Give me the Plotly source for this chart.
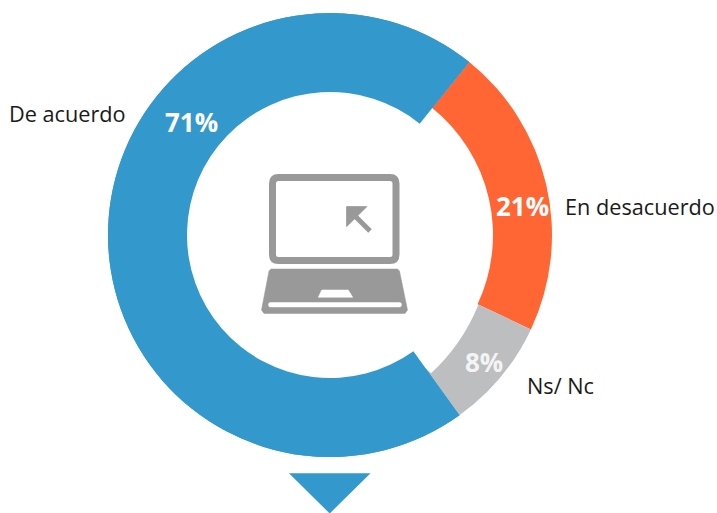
import plotly.graph_objects as go

categories = ["En desacuerdo", "Ns/ Nc", "De acuerdo"]
values = [21.2, 8.1, 70.7]
colors = ["#FF6633", "#BCBEC0", "#3399CC"]

W, H = 717, 513
def X(p): return p / W
def Y(p): return 1 - p / H
def P(x, y): return f"{X(x):.5f},{Y(y):.5f}"
def poly(pts):
    return "M" + " L".join(P(x, y) for x, y in pts) + " Z"
def rounded(x0, y0, x1, y1, r):
    return ("M" + P(x0 + r, y0) + " L" + P(x1 - r, y0) + " Q" + P(x1, y0) + " " + P(x1, y0 + r)
            + " L" + P(x1, y1 - r) + " Q" + P(x1, y1) + " " + P(x1 - r, y1)
            + " L" + P(x0 + r, y1) + " Q" + P(x0, y1) + " " + P(x0, y1 - r)
            + " L" + P(x0, y0 + r) + " Q" + P(x0, y0) + " " + P(x0 + r, y0) + " Z")

GRAY = "#999999"
BLUE = colors[2]
shapes = [
    # trims the grey band's inner edge, which runs off-centre towards the blue slice
    dict(type="path", path="M" + P(478.3, 305) + " Q" + P(462, 344.8) + " " + P(431, 373.3)
         + " L" + P(424.9, 367.5) + " L" + P(470, 300) + " Z",
         fillcolor="white", line=dict(width=0)),
    dict(type="path", path=rounded(272.5, 177.5, 396, 260.5, 6), fillcolor="rgba(0,0,0,0)",
         line=dict(color=GRAY, width=7)),
    dict(type="path", path=poly([(346.7, 206.7), (366.7, 206.7), (346.7, 226.5)]), fillcolor=GRAY,
         line=dict(color=GRAY, width=1)),
    dict(type="path", path="M" + P(353, 214) + " L" + P(370, 231), line=dict(color=GRAY, width=5)),
    dict(type="path", path=poly([(271, 269), (397.5, 269), (399.5, 271), (407.5, 310), (405, 313.5),
                                 (264, 313.5), (261.5, 310), (269, 271)]), fillcolor=GRAY,
         line=dict(color=GRAY, width=0.5)),
    dict(type="path", path=poly([(321.7, 290), (348.3, 290), (352.7, 297.3), (318.3, 297.3)]),
         fillcolor="white", line=dict(color="white", width=0.5)),
    dict(type="path", path=rounded(268.5, 302.5, 401.5, 307, 2), fillcolor="white",
         line=dict(color="white", width=0.5)),
    dict(type="path", path=poly([(289, 473.3), (370.5, 473.3), (329.7, 513.5)]), fillcolor=BLUE,
         line=dict(width=0)),
]

annotations = []
for text, x, y in zip(categories, [639.5, 560.5, 67.5], [207, 385, 113]):
    annotations.append(dict(text=text, x=X(x), y=Y(y), xref="paper", yref="paper", showarrow=False,
                            xanchor="center", yanchor="middle",
                            font=dict(family="Open Sans", size=21.7, color="#1a1a1a")))
for v, x, y, c in zip(values, [522, 484, 192], [206, 362, 122], ["white", "#f4f4f4", "white"]):
    annotations.append(dict(text=f"{round(v)}%", x=X(x), y=Y(y), xref="paper", yref="paper", showarrow=False,
                            xanchor="center", yanchor="middle",
                            font=dict(family="Open Sans", size=26, color=c, weight="bold")))

domain = dict(x=[X(108), X(552)], y=[Y(457), Y(13)])
common = dict(labels=categories, values=values, sort=False, direction="clockwise", rotation=38.85,
              textinfo="none", hoverinfo="label+percent", showlegend=False, domain=domain)
fig = go.Figure()
fig.add_trace(go.Pie(hole=163 / 222, marker=dict(colors=colors, line=dict(width=0)), **common))
fig.add_trace(go.Pie(hole=143 / 222,
                     marker=dict(colors=["rgba(0,0,0,0)", "rgba(0,0,0,0)", colors[2]], line=dict(width=0)),
                     **common))
fig.update_layout(width=W, height=H, margin=dict(l=0, r=0, t=0, b=0), paper_bgcolor="white",
                  shapes=shapes, annotations=annotations, showlegend=False)
fig.write_html("out.html", config=dict(displayModeBar=False),
               post_script="document.body.style.margin='0';document.body.style.overflow='hidden';")
